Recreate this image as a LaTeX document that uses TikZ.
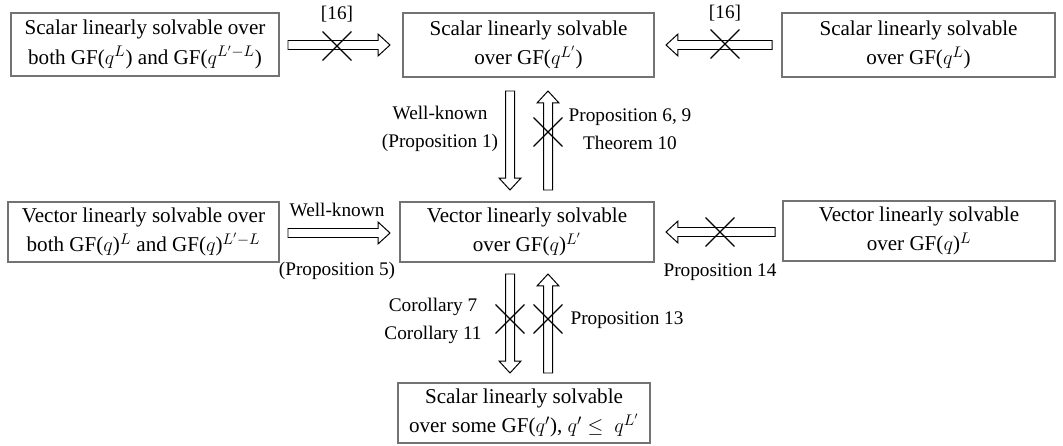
\documentclass[tikz,border=0pt]{standalone}
\usepackage{fontspec}
\setmainfont{Liberation Serif}
\usetikzlibrary{calc}

\begin{document}
\begin{tikzpicture}[x=0.025cm, y=-0.025cm]
        % Define styles
        \tikzset{
            solvable/.style={rectangle, draw=black!55, line width=0.8pt, align=center, inner sep=0pt, font=\fontsize{15}{21}\selectfont},
            result/.style={align=center, inner sep=0pt, font=\fontsize{13.7}{20}\selectfont},
            crossmark/.style={rectangle, inner sep=0pt, minimum size=0.73cm, path picture={\draw[line width=0.9pt] (path picture bounding box.north west) -- (path picture bounding box.south east) (path picture bounding box.south west) -- (path picture bounding box.north east);}},
            implication/.style={line width=0.7pt, to path={
                ($(\tikztostart)!3.2pt!90:(\tikztotarget)$)
                -- ($(\tikztotarget)!8.5pt!(\tikztostart)!3.2pt!90:(\tikztotarget)$)
                -- ($(\tikztotarget)!8.5pt!(\tikztostart)!7.8pt!90:(\tikztotarget)$)
                -- (\tikztotarget)
                -- ($(\tikztotarget)!8.5pt!(\tikztostart)!7.8pt!-90:(\tikztotarget)$)
                -- ($(\tikztotarget)!8.5pt!(\tikztostart)!3.2pt!-90:(\tikztotarget)$)
                -- ($(\tikztostart)!3.2pt!-90:(\tikztotarget)$)
                -- cycle}}
        }
        \useasboundingbox (0,0) rectangle (1063,446);

        % Nodes
        \node[solvable, minimum width=6.7cm, minimum height=1.575cm] (scalar_both) at (145,44.5) {Scalar linearly solvable over\\both GF($q^{L}$) and GF($q^{L'-L}$)};
        \node[solvable, minimum width=6.275cm, minimum height=1.6cm] (scalar_big) at (528.5,45) {Scalar linearly solvable\\over GF($q^{L'}$)};
        \node[solvable, minimum width=6.825cm, minimum height=1.6cm] (scalar_small) at (918.5,45) {Scalar linearly solvable\\over GF($q^{L}$)};
        \node[solvable, minimum width=6.775cm, minimum height=1.5cm] (vector_both) at (143.5,232) {Vector linearly solvable over\\both GF($q$)$^{L}$ and GF($q$)$^{L'-L}$};
        \node[solvable, minimum width=6.35cm, minimum height=1.5cm] (vector_big) at (527,232) {Vector linearly solvable\\over GF($q$)$^{L'}$};
        \node[solvable, minimum width=6.8cm, minimum height=1.5cm] (vector_small) at (919,231) {Vector linearly solvable\\over GF($q$)$^{L}$};
        \node[solvable, minimum width=6.3cm, minimum height=1.5cm] (scalar_some) at (524,413) {Scalar linearly solvable\\over some GF($q'$), $q' \le\ q^{L'}$};

        % Arrow ends
        \coordinate (tail_1) at (288,45);   \coordinate (tip_1) at (390,45);
        \coordinate (tail_2) at (772,45);   \coordinate (tip_2) at (666,45);
        \coordinate (tail_3) at (288,233);  \coordinate (tip_3) at (390,233);
        \coordinate (tail_4) at (775,232);  \coordinate (tip_4) at (666,232);
        \coordinate (tail_5) at (510,91);   \coordinate (tip_5) at (510,190);
        \coordinate (tail_6) at (548,190);  \coordinate (tip_6) at (548,91);
        \coordinate (tail_7) at (510,274);  \coordinate (tip_7) at (510,373);
        \coordinate (tail_8) at (548,373);  \coordinate (tip_8) at (548,274);

        % Arrows
        \draw[implication] (tail_1) to (tip_1);
        \draw[implication] (tail_2) to (tip_2);
        \draw[implication] (tail_3) to (tip_3);
        \draw[implication] (tail_4) to (tip_4);
        \draw[implication] (tail_5) to (tip_5);
        \draw[implication] (tail_6) to (tip_6);
        \draw[implication] (tail_7) to (tip_7);
        \draw[implication] (tail_8) to (tip_8);

        % Crosses
        \node[crossmark] (cross_1) at (337,46) {};
        \node[crossmark] (cross_2) at (725,44) {};
        \node[crossmark] (cross_3) at (720,232) {};
        \node[crossmark] (cross_4) at (548,132) {};
        \node[crossmark] (cross_5) at (510,319) {};
        \node[crossmark] (cross_6) at (548,319) {};

        % Labels
        \node[result] (label_1) at (337,14) {[16]};
        \node[result] (label_2) at (725,13) {[16]};
        \node[result] (label_3) at (337,210) {Well-known};
        \node[result] (label_4) at (337,271) {(Proposition 5)};
        \node[result] (label_5) at (720,272) {Proposition 14};
        \node[result] (label_6) at (440,129) {Well-known\\(Proposition 1)};
        \node[result] (label_7) at (630,129) {Proposition 6, 9\\Theorem 10};
        \node[result] (label_8) at (433,321) {Corollary 7\\Corollary 11};
        \node[result] (label_9) at (627,320) {Proposition 13};
    \end{tikzpicture}
\end{document}
